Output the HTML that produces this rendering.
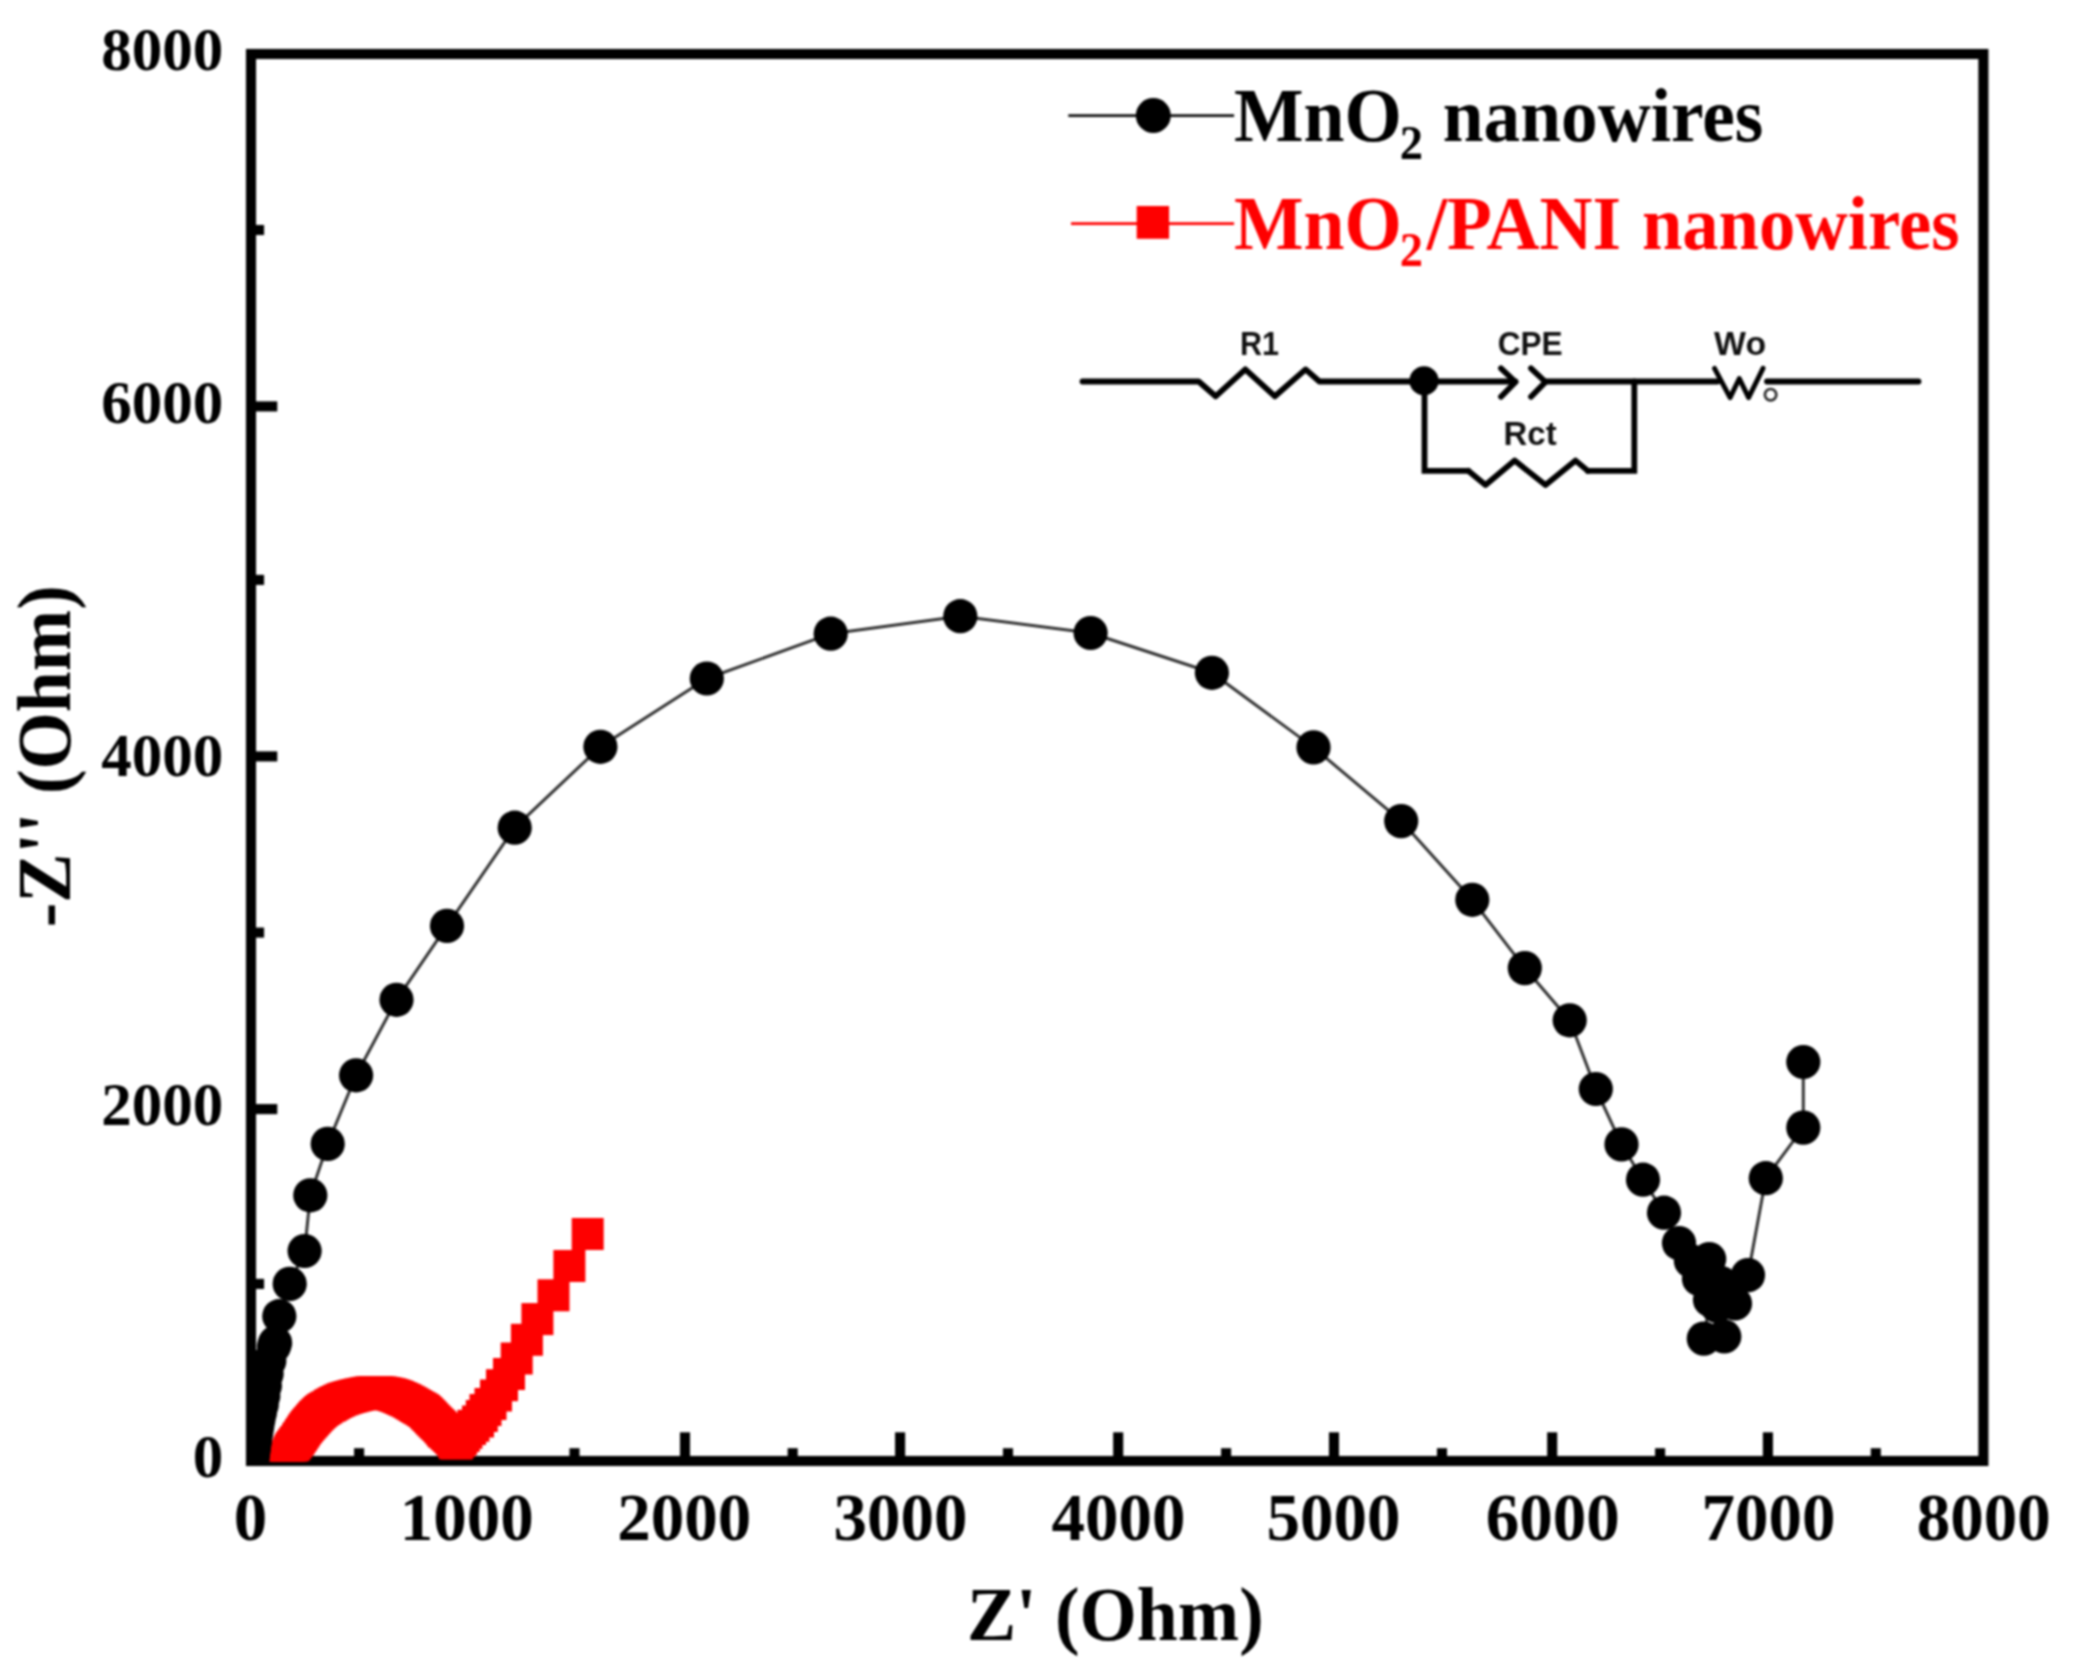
<!DOCTYPE html>
<html lang="en"><head><meta charset="utf-8"><title>Nyquist plot: MnO2 and MnO2/PANI nanowires</title>
<style>html,body{margin:0;padding:0;background:#fff;}body{width:2078px;height:1672px;overflow:hidden;}svg{display:block;filter:blur(0.9px);}text{font-family:"Liberation Serif","Times New Roman",Times,serif;font-weight:bold;}.ck text,.ck{font-family:"Liberation Sans",Arial,Helvetica,sans-serif;}</style></head><body>
<svg width="2078" height="1672" viewBox="0 0 2078 1672">
<rect x="0" y="0" width="2078" height="1672" fill="#fff"/>
<defs><clipPath id="cp"><rect x="251.00" y="54.00" width="1732.40" height="1407.60"/></clipPath></defs>
<g id="axes" stroke="#000" stroke-width="10.1" fill="none" stroke-linecap="butt">
<rect x="251.00" y="54.00" width="1732.40" height="1407.00" stroke-linejoin="miter"/>
<line x1="467.60" y1="1461.00" x2="467.60" y2="1432.30"/>
<line x1="685.00" y1="1461.00" x2="685.00" y2="1432.30"/>
<line x1="900.10" y1="1461.00" x2="900.10" y2="1432.30"/>
<line x1="1118.20" y1="1461.00" x2="1118.20" y2="1432.30"/>
<line x1="1334.00" y1="1461.00" x2="1334.00" y2="1432.30"/>
<line x1="1552.20" y1="1461.00" x2="1552.20" y2="1432.30"/>
<line x1="1767.90" y1="1461.00" x2="1767.90" y2="1432.30"/>
<line x1="359.10" y1="1461.00" x2="359.10" y2="1448.20"/>
<line x1="574.50" y1="1461.00" x2="574.50" y2="1448.20"/>
<line x1="792.70" y1="1461.00" x2="792.70" y2="1448.20"/>
<line x1="1008.00" y1="1461.00" x2="1008.00" y2="1448.20"/>
<line x1="1226.10" y1="1461.00" x2="1226.10" y2="1448.20"/>
<line x1="1442.00" y1="1461.00" x2="1442.00" y2="1448.20"/>
<line x1="1660.10" y1="1461.00" x2="1660.10" y2="1448.20"/>
<line x1="1875.80" y1="1461.00" x2="1875.80" y2="1448.20"/>
<line x1="251.00" y1="1109.10" x2="277.30" y2="1109.10"/>
<line x1="251.00" y1="756.40" x2="277.30" y2="756.40"/>
<line x1="251.00" y1="406.40" x2="277.30" y2="406.40"/>
<line x1="251.00" y1="1283.90" x2="264.10" y2="1283.90"/>
<line x1="251.00" y1="932.60" x2="264.10" y2="932.60"/>
<line x1="251.00" y1="579.90" x2="264.10" y2="579.90"/>
<line x1="251.00" y1="230.00" x2="264.10" y2="230.00"/>
</g>
<g id="ylabels" font-size="61" text-anchor="end">
<text x="223.2" y="1477.2">0</text>
<text x="223.2" y="1124.7">2000</text>
<text x="223.2" y="775.7">4000</text>
<text x="223.2" y="423.3">6000</text>
<text x="223.2" y="70.0">8000</text>
</g>
<g id="xlabels" font-size="67" text-anchor="middle">
<text x="250.5" y="1539.5">0</text>
<text x="466.8" y="1539.5">1000</text>
<text x="684.2" y="1539.5">2000</text>
<text x="900.4" y="1539.5">3000</text>
<text x="1118.5" y="1539.5">4000</text>
<text x="1333.4" y="1539.5">5000</text>
<text x="1552.8" y="1539.5">6000</text>
<text x="1768.4" y="1539.5">7000</text>
<text x="1983.7" y="1539.5">8000</text>
</g>
<text id="xtitle" font-size="76" transform="translate(966.9 1639.6) scale(0.97 1)">Z' (Ohm)</text>
<text id="ytitle" font-size="76" transform="translate(70 927.2) rotate(-90) scale(0.97 1)">-Z'' (Ohm)</text>
<g id="data" clip-path="url(#cp)">
<polyline fill="none" stroke="#f00" stroke-width="2.4" points="285.3,1463.5 285.8,1461.8 286.5,1459.5 287.3,1457.3 288.3,1455.0 289.4,1452.3 290.8,1449.5 292.5,1447.0 294.3,1444.5 296.1,1442.1 298.0,1439.5 299.4,1437.4 301.0,1435.0 302.5,1432.7 304.0,1430.4 305.6,1428.1 307.2,1426.0 308.8,1424.1 310.4,1422.3 312.0,1420.5 313.5,1418.8 314.9,1417.1 316.5,1415.5 318.2,1413.8 320.0,1412.1 322.0,1410.5 324.2,1409.0 326.6,1407.5 329.5,1405.8 331.6,1404.6 333.9,1403.3 336.4,1402.0 339.1,1400.7 341.8,1399.5 344.2,1398.6 346.8,1397.8 349.5,1397.0 352.2,1396.3 354.8,1395.6 357.4,1395.0 360.0,1394.4 362.6,1393.9 365.2,1393.4 367.7,1392.9 370.0,1392.6 372.0,1392.3 375.0,1392.0 377.2,1392.1 380.0,1392.4 382.2,1392.7 384.7,1393.1 387.3,1393.6 390.0,1394.2 392.6,1394.9 395.3,1395.8 398.0,1396.8 400.7,1398.0 403.3,1399.2 405.8,1400.3 408.6,1401.7 411.2,1403.2 413.6,1404.6 415.9,1406.0 418.1,1407.3 420.2,1408.4 422.2,1409.6 424.0,1410.8 426.0,1412.5 427.6,1414.2 429.3,1415.9 431.0,1417.7 432.7,1419.5 434.5,1421.3 436.3,1423.1 438.2,1424.9 440.0,1426.7 441.6,1428.5 443.0,1430.3 444.5,1432.0 446.8,1434.1 449.0,1436.0 450.9,1437.8 452.5,1439.5 454.0,1441.6 455.0,1443.3 457.0,1443.5 459.0,1441.3 461.0,1439.1 463.7,1436.0 466.4,1432.8 470.0,1429.0 473.4,1425.8 478.0,1421.5 481.8,1416.0 485.5,1410.0 490.5,1404.0 496.0,1395.5 502.0,1385.2 509.0,1374.0 516.7,1358.5 526.9,1339.8 537.4,1319.1 553.5,1295.3 569.4,1266.0 587.7,1234.0"/>
<g fill="#fe0000">
<rect x="269.3" y="1447.5" width="32" height="32"/>
<rect x="269.8" y="1445.8" width="32" height="32"/>
<rect x="270.5" y="1443.5" width="32" height="32"/>
<rect x="271.3" y="1441.3" width="32" height="32"/>
<rect x="272.3" y="1439.0" width="32" height="32"/>
<rect x="273.4" y="1436.3" width="32" height="32"/>
<rect x="274.8" y="1433.5" width="32" height="32"/>
<rect x="276.5" y="1431.0" width="32" height="32"/>
<rect x="278.3" y="1428.5" width="32" height="32"/>
<rect x="280.1" y="1426.1" width="32" height="32"/>
<rect x="282.0" y="1423.5" width="32" height="32"/>
<rect x="283.4" y="1421.4" width="32" height="32"/>
<rect x="285.0" y="1419.0" width="32" height="32"/>
<rect x="286.5" y="1416.7" width="32" height="32"/>
<rect x="288.0" y="1414.4" width="32" height="32"/>
<rect x="289.6" y="1412.1" width="32" height="32"/>
<rect x="291.2" y="1410.0" width="32" height="32"/>
<rect x="292.8" y="1408.1" width="32" height="32"/>
<rect x="294.4" y="1406.3" width="32" height="32"/>
<rect x="296.0" y="1404.5" width="32" height="32"/>
<rect x="297.5" y="1402.8" width="32" height="32"/>
<rect x="298.9" y="1401.1" width="32" height="32"/>
<rect x="300.5" y="1399.5" width="32" height="32"/>
<rect x="302.2" y="1397.8" width="32" height="32"/>
<rect x="304.0" y="1396.1" width="32" height="32"/>
<rect x="306.0" y="1394.5" width="32" height="32"/>
<rect x="308.2" y="1393.0" width="32" height="32"/>
<rect x="310.6" y="1391.5" width="32" height="32"/>
<rect x="313.5" y="1389.8" width="32" height="32"/>
<rect x="315.6" y="1388.6" width="32" height="32"/>
<rect x="317.9" y="1387.3" width="32" height="32"/>
<rect x="320.4" y="1386.0" width="32" height="32"/>
<rect x="323.1" y="1384.7" width="32" height="32"/>
<rect x="325.8" y="1383.5" width="32" height="32"/>
<rect x="328.2" y="1382.6" width="32" height="32"/>
<rect x="330.8" y="1381.8" width="32" height="32"/>
<rect x="333.5" y="1381.0" width="32" height="32"/>
<rect x="336.2" y="1380.3" width="32" height="32"/>
<rect x="338.8" y="1379.6" width="32" height="32"/>
<rect x="341.4" y="1379.0" width="32" height="32"/>
<rect x="344.0" y="1378.4" width="32" height="32"/>
<rect x="346.6" y="1377.9" width="32" height="32"/>
<rect x="349.2" y="1377.4" width="32" height="32"/>
<rect x="351.7" y="1376.9" width="32" height="32"/>
<rect x="354.0" y="1376.6" width="32" height="32"/>
<rect x="356.0" y="1376.3" width="32" height="32"/>
<rect x="359.0" y="1376.0" width="32" height="32"/>
<rect x="361.2" y="1376.1" width="32" height="32"/>
<rect x="364.0" y="1376.4" width="32" height="32"/>
<rect x="366.2" y="1376.7" width="32" height="32"/>
<rect x="368.7" y="1377.1" width="32" height="32"/>
<rect x="371.3" y="1377.6" width="32" height="32"/>
<rect x="374.0" y="1378.2" width="32" height="32"/>
<rect x="376.6" y="1378.9" width="32" height="32"/>
<rect x="379.3" y="1379.8" width="32" height="32"/>
<rect x="382.0" y="1380.8" width="32" height="32"/>
<rect x="384.7" y="1382.0" width="32" height="32"/>
<rect x="387.3" y="1383.2" width="32" height="32"/>
<rect x="389.8" y="1384.3" width="32" height="32"/>
<rect x="392.6" y="1385.7" width="32" height="32"/>
<rect x="395.2" y="1387.2" width="32" height="32"/>
<rect x="397.6" y="1388.6" width="32" height="32"/>
<rect x="399.9" y="1390.0" width="32" height="32"/>
<rect x="402.1" y="1391.3" width="32" height="32"/>
<rect x="404.2" y="1392.4" width="32" height="32"/>
<rect x="406.2" y="1393.6" width="32" height="32"/>
<rect x="408.0" y="1394.8" width="32" height="32"/>
<rect x="410.0" y="1396.5" width="32" height="32"/>
<rect x="411.6" y="1398.2" width="32" height="32"/>
<rect x="413.3" y="1399.9" width="32" height="32"/>
<rect x="415.0" y="1401.7" width="32" height="32"/>
<rect x="416.7" y="1403.5" width="32" height="32"/>
<rect x="418.5" y="1405.3" width="32" height="32"/>
<rect x="420.3" y="1407.1" width="32" height="32"/>
<rect x="422.2" y="1408.9" width="32" height="32"/>
<rect x="424.0" y="1410.7" width="32" height="32"/>
<rect x="425.6" y="1412.5" width="32" height="32"/>
<rect x="427.0" y="1414.3" width="32" height="32"/>
<rect x="428.5" y="1416.0" width="32" height="32"/>
<rect x="430.8" y="1418.1" width="32" height="32"/>
<rect x="433.0" y="1420.0" width="32" height="32"/>
<rect x="434.9" y="1421.8" width="32" height="32"/>
<rect x="436.5" y="1423.5" width="32" height="32"/>
<rect x="438.0" y="1425.6" width="32" height="32"/>
<rect x="439.0" y="1427.3" width="32" height="32"/>
<rect x="441.0" y="1427.5" width="32" height="32"/>
<rect x="443.0" y="1425.3" width="32" height="32"/>
<rect x="445.0" y="1423.1" width="32" height="32"/>
<rect x="447.7" y="1420.0" width="32" height="32"/>
<rect x="450.4" y="1416.8" width="32" height="32"/>
<rect x="454.0" y="1413.0" width="32" height="32"/>
<rect x="457.4" y="1409.8" width="32" height="32"/>
<rect x="462.0" y="1405.5" width="32" height="32"/>
<rect x="465.8" y="1400.0" width="32" height="32"/>
<rect x="469.5" y="1394.0" width="32" height="32"/>
<rect x="474.5" y="1388.0" width="32" height="32"/>
<rect x="480.0" y="1379.5" width="32" height="32"/>
<rect x="486.0" y="1369.2" width="32" height="32"/>
<rect x="493.0" y="1358.0" width="32" height="32"/>
<rect x="500.7" y="1342.5" width="32" height="32"/>
<rect x="510.9" y="1323.8" width="32" height="32"/>
<rect x="521.4" y="1303.1" width="32" height="32"/>
<rect x="537.5" y="1279.3" width="32" height="32"/>
<rect x="553.4" y="1250.0" width="32" height="32"/>
<rect x="571.7" y="1218.0" width="32" height="32"/>
</g>
<polyline fill="none" stroke="#333" stroke-width="3" stroke-linejoin="round" points="252.5,1457.0 252.8,1455.0 253.1,1452.8 253.5,1450.2 253.9,1447.3 254.4,1444.0 255.0,1440.3 255.6,1436.1 256.4,1431.3 257.3,1425.9 258.4,1419.7 259.9,1412.8 261.7,1404.9 263.3,1395.9 264.9,1385.7 266.6,1374.0 269.3,1361.0 273.9,1346.5 275.1,1342.9 279.3,1316.2 289.7,1283.9 304.6,1251.0 310.3,1195.3 327.7,1143.9 356.1,1075.3 396.5,999.8 447.0,925.9 514.7,827.7 600.4,746.8 706.8,678.5 830.7,633.7 960.3,616.2 1090.6,633.0 1211.9,672.8 1313.5,747.4 1401.2,821.1 1472.3,899.8 1524.8,968.1 1569.7,1020.3 1595.8,1089.0 1621.5,1144.4 1643.0,1179.7 1664.0,1212.7 1679.0,1243.1 1690.9,1261.0 1699.0,1279.0 1709.2,1259.0 1721.0,1283.0 1710.0,1300.0 1703.8,1338.6 1724.3,1336.5 1717.0,1306.0 1735.0,1303.5 1748.0,1275.1 1765.8,1178.2 1803.3,1127.6 1803.3,1062.0"/>
<g fill="#000">
<circle cx="252.5" cy="1457.0" r="17.1"/>
<circle cx="252.8" cy="1455.0" r="17.1"/>
<circle cx="253.1" cy="1452.8" r="17.1"/>
<circle cx="253.5" cy="1450.2" r="17.1"/>
<circle cx="253.9" cy="1447.3" r="17.1"/>
<circle cx="254.4" cy="1444.0" r="17.1"/>
<circle cx="255.0" cy="1440.3" r="17.1"/>
<circle cx="255.6" cy="1436.1" r="17.1"/>
<circle cx="256.4" cy="1431.3" r="17.1"/>
<circle cx="257.3" cy="1425.9" r="17.1"/>
<circle cx="258.4" cy="1419.7" r="17.1"/>
<circle cx="259.9" cy="1412.8" r="17.1"/>
<circle cx="261.7" cy="1404.9" r="17.1"/>
<circle cx="263.3" cy="1395.9" r="17.1"/>
<circle cx="264.9" cy="1385.7" r="17.1"/>
<circle cx="266.6" cy="1374.0" r="17.1"/>
<circle cx="269.3" cy="1361.0" r="17.1"/>
<circle cx="273.9" cy="1346.5" r="17.1"/>
<circle cx="275.1" cy="1342.9" r="17.1"/>
<circle cx="279.3" cy="1316.2" r="17.1"/>
<circle cx="289.7" cy="1283.9" r="17.1"/>
<circle cx="304.6" cy="1251.0" r="17.1"/>
<circle cx="310.3" cy="1195.3" r="17.1"/>
<circle cx="327.7" cy="1143.9" r="17.1"/>
<circle cx="356.1" cy="1075.3" r="17.1"/>
<circle cx="396.5" cy="999.8" r="17.1"/>
<circle cx="447.0" cy="925.9" r="17.1"/>
<circle cx="514.7" cy="827.7" r="17.1"/>
<circle cx="600.4" cy="746.8" r="17.1"/>
<circle cx="706.8" cy="678.5" r="17.1"/>
<circle cx="830.7" cy="633.7" r="17.1"/>
<circle cx="960.3" cy="616.2" r="17.1"/>
<circle cx="1090.6" cy="633.0" r="17.1"/>
<circle cx="1211.9" cy="672.8" r="17.1"/>
<circle cx="1313.5" cy="747.4" r="17.1"/>
<circle cx="1401.2" cy="821.1" r="17.1"/>
<circle cx="1472.3" cy="899.8" r="17.1"/>
<circle cx="1524.8" cy="968.1" r="17.1"/>
<circle cx="1569.7" cy="1020.3" r="17.1"/>
<circle cx="1595.8" cy="1089.0" r="17.1"/>
<circle cx="1621.5" cy="1144.4" r="17.1"/>
<circle cx="1643.0" cy="1179.7" r="17.1"/>
<circle cx="1664.0" cy="1212.7" r="17.1"/>
<circle cx="1679.0" cy="1243.1" r="17.1"/>
<circle cx="1690.9" cy="1261.0" r="17.1"/>
<circle cx="1699.0" cy="1279.0" r="17.1"/>
<circle cx="1709.2" cy="1259.0" r="17.1"/>
<circle cx="1721.0" cy="1283.0" r="17.1"/>
<circle cx="1710.0" cy="1300.0" r="17.1"/>
<circle cx="1703.8" cy="1338.6" r="17.1"/>
<circle cx="1724.3" cy="1336.5" r="17.1"/>
<circle cx="1717.0" cy="1306.0" r="17.1"/>
<circle cx="1735.0" cy="1303.5" r="17.1"/>
<circle cx="1748.0" cy="1275.1" r="17.1"/>
<circle cx="1765.8" cy="1178.2" r="17.1"/>
<circle cx="1803.3" cy="1127.6" r="17.1"/>
<circle cx="1803.3" cy="1062.0" r="17.1"/>
</g>
</g>
<g id="legend">
<line x1="1068.3" y1="115.7" x2="1234.1" y2="115.7" stroke="#111" stroke-width="2.8"/>
<circle cx="1153.3" cy="115.5" r="17.5" fill="#000"/>
<line x1="1071" y1="223.7" x2="1234.1" y2="223.7" stroke="#f00" stroke-width="2.8"/>
<rect x="1136.7" y="206" width="32.4" height="32.8" fill="#fe0000"/>
<text font-size="76" transform="translate(1233.9 141.2) scale(0.97 1)">MnO</text>
<text font-size="48" transform="translate(1399.8 158.6) scale(0.97 1)">2</text>
<text font-size="76" transform="translate(1442.8 141.2) scale(0.965 1)">nanowires</text>
<g fill="#fe0000">
<text fill="#fe0000" font-size="76" transform="translate(1233.9 249.0) scale(0.97 1)">MnO</text>
<text fill="#fe0000" font-size="48" transform="translate(1399.8 266.4) scale(0.97 1)">2</text>
<text fill="#fe0000" font-size="76" transform="translate(1426.7 249.0) scale(0.966 1)">/PANI</text>
<text fill="#fe0000" font-size="76" transform="translate(1641.9 249.0) scale(0.956 1)">nanowires</text>
</g>
</g>
<g id="circuit" class="ck" fill="none" stroke="#000" stroke-width="5.8" stroke-linejoin="round" stroke-linecap="round">
<polyline points="1082.5,381.5 1198.7,381.5 1215.6,396.3 1245.3,369.4 1274.9,396.3 1305.6,369.4 1319.4,381.5 1515.5,381.5"/>
<circle cx="1424" cy="380.8" r="14.6" fill="#000" stroke="none"/>
<polyline points="1501,368.3 1515.5,382 1501,396.8"/>
<polyline points="1531,368.3 1545.5,382 1531,396.8"/>
<polyline points="1545.5,381.5 1717.5,381.5"/>
<polyline stroke-linejoin="miter" points="1424.5,381.5 1424.5,470.9 1468.5,470.9"/>
<polyline points="1468.5,470.9 1485.5,485.0 1514.7,460.6 1545.5,485.0 1575.6,460.6 1587.9,470.9"/>
<polyline stroke-linejoin="miter" points="1587.9,470.9 1634.3,470.9 1634.3,381.5"/>
<polyline stroke-width="4.9" points="1714.5,368.3 1730.1,397.6 1739.3,378.5 1748.6,397.6 1763.0,368.3"/>
<polyline points="1767,381.5 1918.5,381.5"/>
<circle cx="1770.6" cy="394.7" r="5.7" stroke="#2a2a2a" stroke-width="2.7"/>
</g>
<g id="circuit-labels" class="ck" font-size="33" text-anchor="middle">
<text fill="#111" x="1259.5" y="355" textLength="39" lengthAdjust="spacingAndGlyphs">R1</text>
<text fill="#111" x="1530.2" y="354.6" textLength="65" lengthAdjust="spacingAndGlyphs">CPE</text>
<text fill="#111" x="1530.1" y="444.6" textLength="53" lengthAdjust="spacingAndGlyphs">Rct</text>
<text fill="#111" x="1740.1" y="355" textLength="52" lengthAdjust="spacingAndGlyphs">Wo</text>
</g>
</svg>
</body></html>
